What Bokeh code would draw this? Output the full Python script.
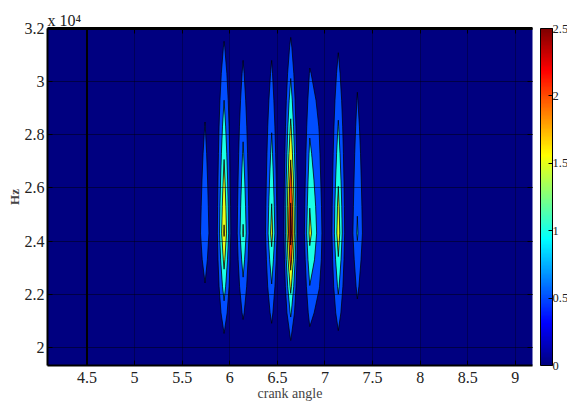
from bokeh.plotting import figure
from bokeh.embed import file_html
from bokeh.resources import INLINE
from bokeh.models import (Range1d, FixedTicker, LinearAxis, Title, ColorBar,
                          LinearColorMapper, Span)

# crank angle columns of the map
CRANK = [4.08, 5.64, 5.74, 5.84, 5.94, 6.04, 6.14, 6.24, 6.34, 6.44, 6.54,
         6.64, 6.74, 6.84, 6.94, 7.04, 7.14, 7.24, 7.34, 7.44, 9.18]
# frequency rows, in units of 10^4 Hz
HZ = [1.93, 2.03, 2.13, 2.23, 2.33, 2.43, 2.53, 2.63, 2.73, 2.83, 2.93, 3.03, 3.13, 3.23]
# value along the frequency rows for each non-empty column
C574 = [0, 0, 0.24, 0.47, 0.71, 0.95, 0.84, 0.735, 0.63, 0.52, 0.41, 0.30, 0.20, 0.09]
C594 = [0.10, 0.41, 0.81, 1.23, 1.65, 2.05, 1.89, 1.67, 1.45, 1.23, 1.00, 0.77, 0.55, 0.32]
C614 = [0, 0.26, 0.58, 0.89, 1.21, 1.55, 1.40, 1.235, 1.07, 0.91, 0.74, 0.58, 0.42, 0.25]
C644 = [0, 0.30, 0.63, 0.97, 1.31, 1.70, 1.52, 1.33, 1.14, 0.96, 0.77, 0.59, 0.41, 0.22]
C664 = [0, 0.52, 1.09, 1.65, 2.23, 2.72, 2.54, 2.25, 1.92, 1.60, 1.27, 0.94, 0.62, 0.29]
C684 = [0.02, 0.34, 0.67, 0.99, 1.32, 1.66, 1.49, 1.30, 1.11, 0.92, 0.73, 0.54, 0.35, 0.16]
C694 = [0, 0.05, 0.30, 0.52, 0.68, 0.75, 0.70, 0.62, 0.55, 0.48, 0.38, 0.27, 0.15, 0]
C714 = [0.01, 0.38, 0.74, 1.11, 1.46, 1.80, 1.66, 1.45, 1.25, 1.05, 0.85, 0.65, 0.46, 0.26]
C734 = [0, 0.17, 0.39, 0.60, 0.82, 1.07, 0.96, 0.85, 0.75, 0.64, 0.53, 0.43, 0.32, 0.22]
EMPTY = [0] * 14
DIP_A = [-0.15] * 14
DIP_B = [-0.4] * 14

COLUMNS = [EMPTY, EMPTY, C574, DIP_A, C594, DIP_A, C614, DIP_A, DIP_A, C644, DIP_B,
           C664, DIP_B, C684, C694, DIP_A, C714, DIP_A, C734, EMPTY, EMPTY]

LEVELS = [0.5, 1.0, 1.5, 2.0, 2.5, 3.0]
XTICKS = [4.5, 5, 5.5, 6, 6.5, 7, 7.5, 8, 8.5, 9]
YTICKS = [2, 2.2, 2.4, 2.6, 2.8, 3, 3.2]
CTICKS = [0, 0.5, 1, 1.5, 2, 2.5]
XLABEL = "crank angle"
YLABEL = "Hz"
SCALE = "x 10\u2074"
FONT = "Liberation Serif"


def jet(t):
    def ramp(c):
        return max(0.0, min(1.0, 1.5 - abs(4 * t - c)))
    r, g, b = ramp(3), ramp(2), ramp(1)
    return "#%02x%02x%02x" % (round(r * 255), round(g * 255), round(b * 255))


ZMAX = CTICKS[-1]
p = figure(width=567, height=403, output_backend="svg", toolbar_location=None,
           x_range=Range1d(4.085, 9.18), y_range=Range1d(1.932, 3.2),
           min_border_left=47, min_border_right=35, min_border_top=28, min_border_bottom=38,
           background_fill_color=jet(0), border_fill_color="white",
           title=Title(text=SCALE, align="left", text_font=FONT, text_font_size="16px",
                       text_font_style="normal", text_color="#222222", standoff=0),
           outline_line_color=None, x_axis_location="below", y_axis_location="left")

z = [[COLUMNS[j][i] for j in range(len(CRANK))] for i in range(len(HZ))]
p.contour(CRANK, HZ, z, LEVELS,
          fill_color=[jet(l / ZMAX) for l in LEVELS[:-1]],
          line_color="black", line_width=0.8, line_alpha=0.9)

for ax, ticks in ((p.xaxis[0], XTICKS), (p.yaxis[0], YTICKS)):
    ax.ticker = FixedTicker(ticks=ticks)
    ax.major_tick_in = 5
    ax.major_tick_out = 0
    ax.minor_tick_line_color = None
    ax.axis_line_width = 2
    ax.major_tick_line_width = 1
    ax.major_label_text_font = FONT
    ax.major_label_text_font_size = "16px"
    ax.major_label_text_color = "#222222"

p.xaxis[0].major_label_standoff = 6
p.yaxis[0].major_label_standoff = 3
p.xaxis[0].axis_label = XLABEL
p.xaxis[0].axis_label_text_font = FONT
p.xaxis[0].axis_label_text_font_size = "14px"
p.xaxis[0].axis_label_text_font_style = "normal"
p.xaxis[0].axis_label_standoff = 0
p.yaxis[0].axis_label = YLABEL
p.yaxis[0].axis_label_text_font = FONT
p.yaxis[0].axis_label_text_font_size = "13px"
p.yaxis[0].axis_label_text_font_style = "bold"
p.yaxis[0].axis_label_standoff = 0

blank_x = {t: "" for t in XTICKS}
blank_y = {t: "" for t in YTICKS}
top = LinearAxis(ticker=FixedTicker(ticks=XTICKS), major_label_overrides=blank_x,
                 major_tick_in=5, major_tick_out=0, minor_tick_line_color=None,
                 axis_line_width=3, major_label_standoff=0)
p.add_layout(top, "above")
right = LinearAxis(ticker=FixedTicker(ticks=YTICKS), major_label_overrides=blank_y,
                   major_tick_in=5, major_tick_out=0, minor_tick_line_color=None,
                   axis_line_color=None, major_label_standoff=0)
p.add_layout(right, "right")

for g, ticks in ((p.xgrid[0], XTICKS), (p.ygrid[0], YTICKS)):
    g.ticker = FixedTicker(ticks=ticks)
    g.level = "overlay"
    g.grid_line_color = "black"
    g.grid_line_alpha = 0.45
    g.grid_line_width = 1
p.xgrid[0].grid_line_alpha = 0.3

p.add_layout(Span(location=XTICKS[0], dimension="height", line_color="black", line_width=2))

mapper = LinearColorMapper(palette=[jet(i / 255) for i in range(256)], low=0, high=ZMAX)
cb = ColorBar(color_mapper=mapper, ticker=FixedTicker(ticks=CTICKS), width=12, height=337,
              location=(493, 0), padding=0, margin=0, label_standoff=0, major_tick_in=4,
              major_tick_line_color="black", bar_line_color="black", bar_line_width=1,
              minor_tick_line_color=None, major_label_text_font=FONT,
              major_label_text_font_size="12.5px", major_label_text_color="#222222",
              background_fill_color=None, border_line_color=None)
p.add_layout(cb, "center")

open("out.html", "w").write(file_html(p, INLINE))
